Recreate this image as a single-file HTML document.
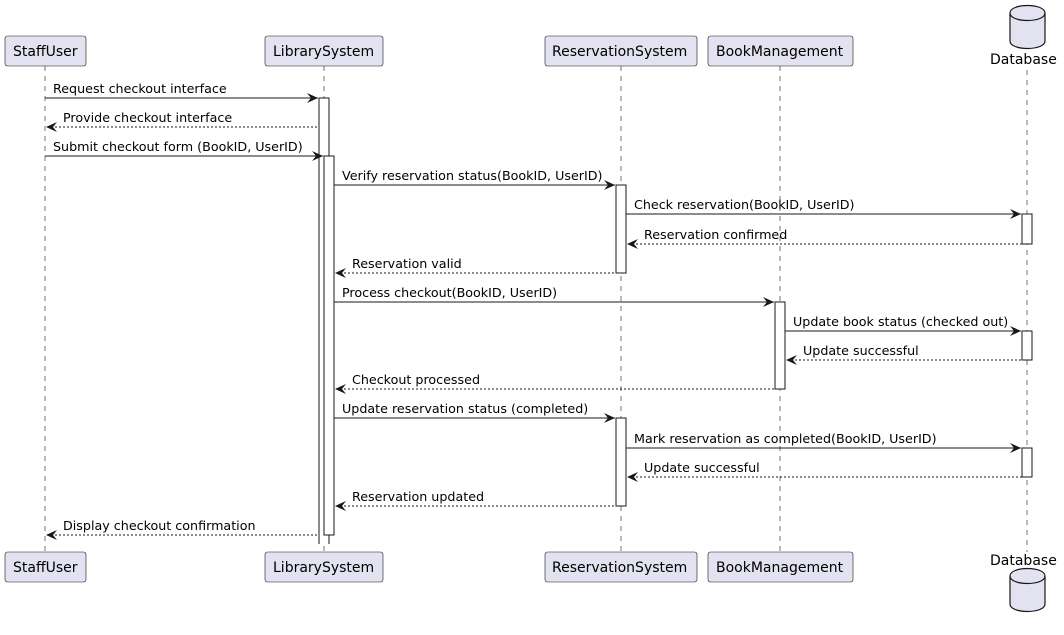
<!DOCTYPE html>
<html><head><meta charset="utf-8"><style>
html,body{margin:0;padding:0;background:#fff}
svg text{font-family:"DejaVu Sans","Liberation Sans",sans-serif;font-size:12.7px;fill:#000}
svg text.p{font-size:14px}
</style></head><body>
<svg width="1064" height="630" viewBox="0 0 1064 630" xmlns="http://www.w3.org/2000/svg">
<g stroke="#181818" stroke-width="0.6" stroke-dasharray="5,5">
<line x1="45" y1="66" x2="45" y2="552"/>
<line x1="324" y1="66" x2="324" y2="552"/>
<line x1="621" y1="66" x2="621" y2="552"/>
<line x1="780" y1="66" x2="780" y2="552"/>
<line x1="1027" y1="70" x2="1027" y2="552"/>
</g>
<g fill="#E2E2F0" stroke="#181818" stroke-width="0.6">
<rect x="5" y="36" width="81" height="30" rx="2.5"/>
<rect x="265" y="36" width="118" height="30" rx="2.5"/>
<rect x="545" y="36" width="152" height="30" rx="2.5"/>
<rect x="708" y="36" width="145" height="30" rx="2.5"/>
<rect x="5" y="552" width="81" height="30" rx="2.5"/>
<rect x="265" y="552" width="118" height="30" rx="2.5"/>
<rect x="545" y="552" width="152" height="30" rx="2.5"/>
<rect x="708" y="552" width="145" height="30" rx="2.5"/>
</g>
<g fill="#E2E2F0" stroke="#181818" stroke-width="1.2">
<path d="M1010,13 C1010,3 1045,3 1045,13 L1045,41 C1045,51 1010,51 1010,41 Z"/>
<path d="M1010,13 C1010,23 1045,23 1045,13" fill="none"/>
<path d="M1010,576 C1010,566 1045,566 1045,576 L1045,604 C1045,614 1010,614 1010,604 Z"/>
<path d="M1010,576 C1010,586 1045,586 1045,576" fill="none"/>
</g>
<text class="p" x="13" y="56">StaffUser</text>
<text class="p" x="273" y="56">LibrarySystem</text>
<text class="p" x="552" y="56">ReservationSystem</text>
<text class="p" x="716" y="56">BookManagement</text>
<text class="p" x="990" y="64">Database</text>
<text class="p" x="13" y="572">StaffUser</text>
<text class="p" x="273" y="572">LibrarySystem</text>
<text class="p" x="552" y="572">ReservationSystem</text>
<text class="p" x="716" y="572">BookManagement</text>
<text class="p" x="990" y="565">Database</text>
<g fill="#fff" stroke="#181818" stroke-width="1">
<path d="M319,544 L319,98 L329,98 L329,544"/>
<rect x="324" y="156" width="10" height="379"/>
<rect x="616" y="185" width="10" height="88"/>
<rect x="616" y="418" width="10" height="88"/>
<rect x="1022" y="214" width="10" height="30"/>
<rect x="1022" y="331" width="10" height="29"/>
<rect x="1022" y="448" width="10" height="29"/>
<rect x="775" y="302" width="10" height="87"/>
</g>
<g stroke="#181818" stroke-width="1" fill="none">
<line x1="45" y1="98" x2="318" y2="98"/>
<line x1="47" y1="127" x2="319" y2="127" stroke-dasharray="2,2"/>
<line x1="45" y1="156" x2="323" y2="156"/>
<line x1="334" y1="185" x2="615" y2="185"/>
<line x1="626" y1="214" x2="1021" y2="214"/>
<line x1="628" y1="244" x2="1022" y2="244" stroke-dasharray="2,2"/>
<line x1="336" y1="273" x2="616" y2="273" stroke-dasharray="2,2"/>
<line x1="334" y1="302" x2="774" y2="302"/>
<line x1="785" y1="331" x2="1021" y2="331"/>
<line x1="787" y1="360" x2="1022" y2="360" stroke-dasharray="2,2"/>
<line x1="336" y1="389" x2="775" y2="389" stroke-dasharray="2,2"/>
<line x1="334" y1="418" x2="615" y2="418"/>
<line x1="626" y1="448" x2="1021" y2="448"/>
<line x1="628" y1="477" x2="1022" y2="477" stroke-dasharray="2,2"/>
<line x1="336" y1="506" x2="616" y2="506" stroke-dasharray="2,2"/>
<line x1="47" y1="535" x2="319" y2="535" stroke-dasharray="2,2"/>
</g>
<g fill="#181818">
<polygon points="307,93 318,98 307,103 311,98"/>
<polygon points="57,122 46,127 57,132 53,127"/>
<polygon points="312,151 323,156 312,161 316,156"/>
<polygon points="604,180 615,185 604,190 608,185"/>
<polygon points="1010,209 1021,214 1010,219 1014,214"/>
<polygon points="638,239 627,244 638,249 634,244"/>
<polygon points="346,268 335,273 346,278 342,273"/>
<polygon points="763,297 774,302 763,307 767,302"/>
<polygon points="1010,326 1021,331 1010,336 1014,331"/>
<polygon points="797,355 786,360 797,365 793,360"/>
<polygon points="346,384 335,389 346,394 342,389"/>
<polygon points="604,413 615,418 604,423 608,418"/>
<polygon points="1010,443 1021,448 1010,453 1014,448"/>
<polygon points="638,472 627,477 638,482 634,477"/>
<polygon points="346,501 335,506 346,511 342,506"/>
<polygon points="57,530 46,535 57,540 53,535"/>
</g>
<text x="53" y="93">Request checkout interface</text>
<text x="63" y="122">Provide checkout interface</text>
<text x="53" y="151">Submit checkout form (BookID, UserID)</text>
<text x="342" y="180">Verify reservation status(BookID, UserID)</text>
<text x="634" y="209">Check reservation(BookID, UserID)</text>
<text x="644" y="239">Reservation confirmed</text>
<text x="352" y="268">Reservation valid</text>
<text x="342" y="297">Process checkout(BookID, UserID)</text>
<text x="793" y="326">Update book status (checked out)</text>
<text x="803" y="355">Update successful</text>
<text x="352" y="384">Checkout processed</text>
<text x="342" y="413">Update reservation status (completed)</text>
<text x="634" y="443">Mark reservation as completed(BookID, UserID)</text>
<text x="644" y="472">Update successful</text>
<text x="352" y="501">Reservation updated</text>
<text x="63" y="530">Display checkout confirmation</text>
</svg>
</body></html>
